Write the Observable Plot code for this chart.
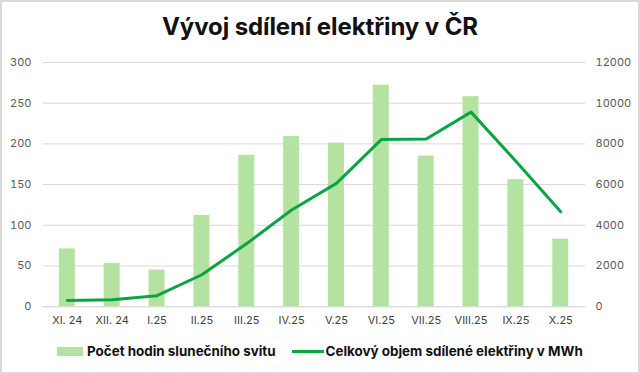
<!DOCTYPE html>
<html><head><meta charset="utf-8">
<script src="https://cdn.jsdelivr.net/npm/d3@7"></script>
<script src="https://cdn.jsdelivr.net/npm/@observablehq/plot@0.6"></script>
<style>
body{margin:0;background:#fff;font-family:Inter,"Liberation Sans",sans-serif;}
#frame{width:640px;height:374px;box-sizing:border-box;border:2px solid #d9d9d9;position:relative;overflow:hidden;}
#title{position:absolute;top:10px;left:0;width:636px;text-align:center;font-size:24px;font-weight:700;color:#111;letter-spacing:-0.1px;}
#chart{position:absolute;top:48px;left:-2px;}
#legend{position:absolute;top:341px;left:55px;display:flex;gap:16px;font-size:13.4px;font-weight:700;color:#111;align-items:center;}
.item{display:flex;align-items:center;gap:4px;}
.sw{display:inline-block;width:26px;height:9px;background:#b4e3a1;}
.ln{display:inline-block;width:32px;height:3px;background:#0aa443;margin-right:-2px;}
</style></head><body>
<div id="frame">
<div id="title">Vývoj sdílení elektřiny v ČR</div>
<div id="chart"></div>
<div id="legend">
<span class="item"><span class="sw"></span>Počet hodin slunečního svitu</span>
<span class="item"><span class="ln"></span>Celkový objem sdílené elektřiny v MWh</span>
</div>
</div>
<script>
const months = ["XI. 24","XII. 24","I.25","II.25","III.25","IV.25","V.25","VI.25","VII.25","VIII.25","IX.25","X.25"];
const sunHours = [71,53,45,112,186,209,201,272,185,258,156,83];
const sharedMWh = [300,340,540,1570,3100,4750,6060,8210,8240,9560,7150,4670];
const leftTicks = [0,50,100,150,200,250,300];
const rightTicks = [0,2000,4000,6000,8000,10000,12000];
const ratio = 40; // right axis units per left axis unit

const data = months.map((m,i)=>({m, sun: sunHours[i], mwh: sharedMWh[i]}));

const chart = Plot.plot({
  width: 640,
  height: 287,
  marginLeft: 43,
  marginRight: 53,
  marginTop: 12,
  marginBottom: 30,
  style: {fontFamily: "Inter, 'Liberation Sans', sans-serif", fontSize: "11px", color: "#595959", background: "transparent"},
  x: {domain: months, paddingInner: 0.64, paddingOuter: 0.32, label: null},
  y: {domain: [0,300], label: null},
  marks: [
    Plot.gridY(leftTicks, {stroke: "#d9d9d9", strokeOpacity: 1, strokeWidth: 1}),
    Plot.axisY(leftTicks, {anchor: "left", tickSize: 0, tickPadding: 12, label: null, fill: "#595959"}),
    Plot.axisY(leftTicks, {anchor: "right", tickSize: 0, tickPadding: 10, label: null, fill: "#595959", tickFormat: d => String(d*ratio), textAnchor: "start"}),
    Plot.barY(data, {x: "m", y: "sun", fill: "#b4e3a1"}),
    Plot.ruleY([0], {stroke: "#d9d9d9"}),
    Plot.axisX({tickSize: 0, tickPadding: 10, label: null, fill: "#404040"}),
    Plot.line(data, {x: "m", y: d => d.mwh / ratio, stroke: "#0aa443", strokeWidth: 3, curve: "linear"})
  ]
});
document.getElementById("chart").append(chart);
</script>
</body></html>
